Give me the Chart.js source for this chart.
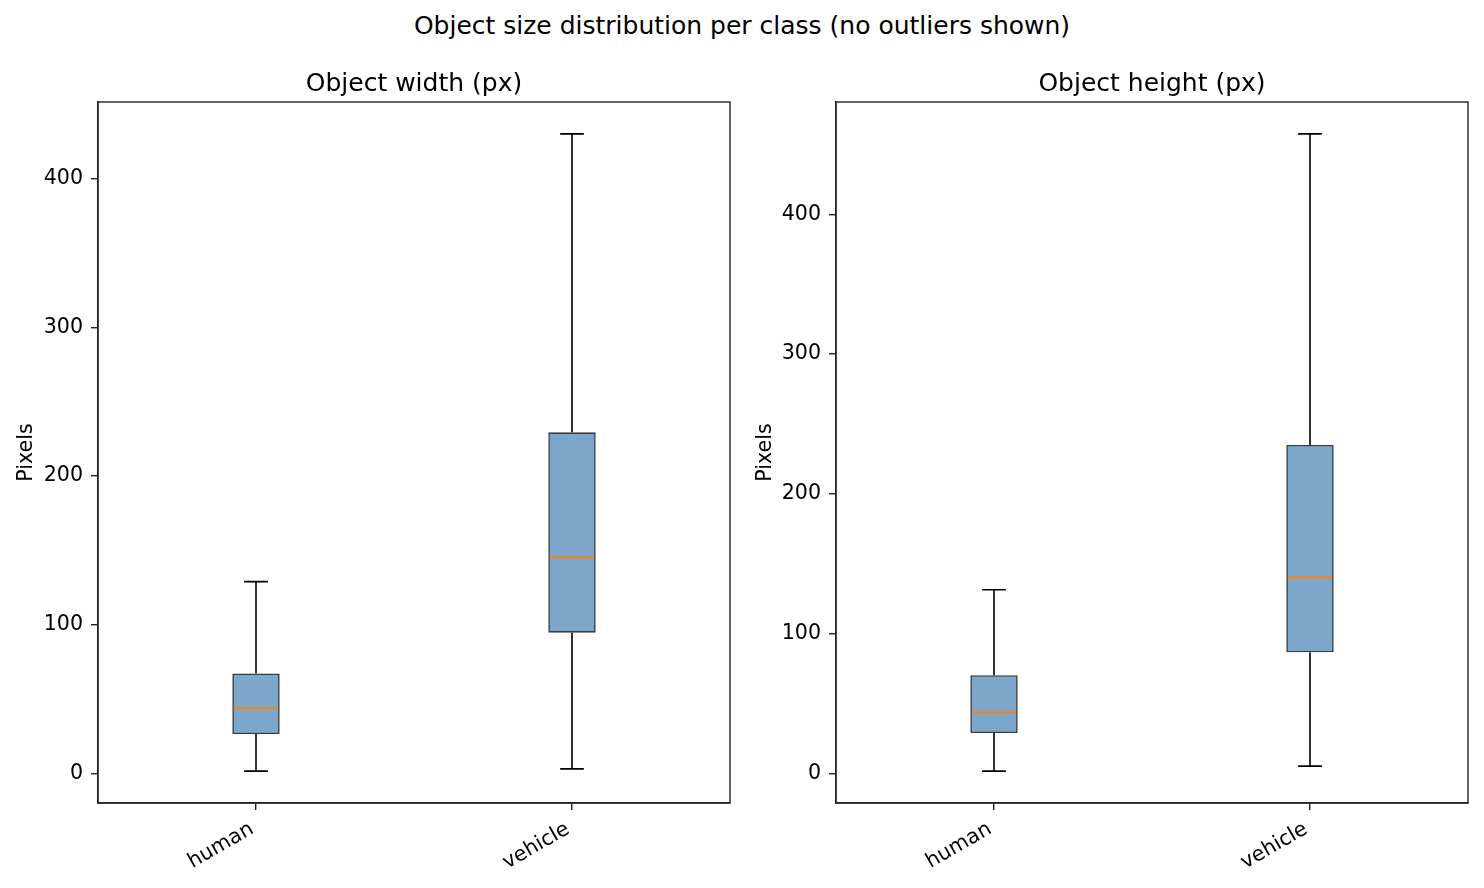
<!DOCTYPE html>
<html>
<head>
<meta charset="utf-8">
<title>Object size distribution per class</title>
<script src="https://cdn.jsdelivr.net/npm/chart.js@4.4.1/dist/chart.umd.min.js"></script>
<style>
    html, body { margin: 0; padding: 0; background: #fff; }
    body { width: 1484px; height: 888px; position: relative; overflow: hidden; font-family: 'DejaVu Sans', sans-serif; }
    #suptitle { position: absolute; top: 11px; left: 0; width: 1484px; text-align: center; font-size: 25px; color: #000; white-space: nowrap; }
    .panel { position: absolute; top: 0; width: 742px; height: 888px; }
    #p1 { left: 0; }
    #p2 { left: 742px; }
</style>
</head>
<body>
<div id="suptitle">Object size distribution per class (no outliers shown)</div>
<div class="panel" id="p1"><canvas id="widthChart"></canvas></div>
<div class="panel" id="p2"><canvas id="heightChart"></canvas></div>
<script>
// Box plot stats (px)
const classes = ['human', 'vehicle'];

const widthLow = [1.5, 3.0];
const widthQ1 = [26.4, 94.6];
const widthMedian = [43.8, 145.4];
const widthQ3 = [67.1, 229.3];
const widthHigh = [128.9, 430.0];

const heightLow = [1.6, 5.2];
const heightQ1 = [28.8, 86.6];
const heightMedian = [43.8, 140.2];
const heightQ3 = [70.2, 235.0];
const heightHigh = [131.4, 457.6];

const yTickStep = 100;

Chart.defaults.font.family = "'DejaVu Sans', sans-serif";
Chart.defaults.color = '#000';

/**
 * Draws whiskers, caps, medians, the axes frame and the panel title
 */
const boxPlotExtras = {
    id: 'boxPlotExtras',
    afterDatasetsDraw(chart, args, opts) {
        const ctx = chart.ctx;
        const y = chart.scales.y;
        const meta = chart.getDatasetMeta(0);
        ctx.save();
        meta.data.forEach((bar, i) => {
            const cx = bar.x;
            const half = bar.width / 2;
            const capHalf = half / 2;
            const yLow = y.getPixelForValue(opts.low[i]);
            const yHigh = y.getPixelForValue(opts.high[i]);
            const yQ1 = y.getPixelForValue(opts.q1[i]);
            const yQ3 = y.getPixelForValue(opts.q3[i]);
            const yMed = y.getPixelForValue(opts.median[i]);

            ctx.strokeStyle = '#000';
            ctx.lineWidth = 1.6;
            ctx.beginPath();
            ctx.moveTo(cx, yQ1); ctx.lineTo(cx, yLow);
            ctx.moveTo(cx, yQ3); ctx.lineTo(cx, yHigh);
            ctx.moveTo(cx - capHalf, yLow); ctx.lineTo(cx + capHalf, yLow);
            ctx.moveTo(cx - capHalf, yHigh); ctx.lineTo(cx + capHalf, yHigh);
            ctx.stroke();

            ctx.strokeStyle = '#ff7f0e';
            ctx.lineWidth = 2;
            ctx.beginPath();
            ctx.moveTo(cx - half + 1.5, yMed); ctx.lineTo(cx + half - 1.5, yMed);
            ctx.stroke();
        });

        // frame
        const a = chart.chartArea;
        ctx.strokeStyle = '#222';
        ctx.lineWidth = 1.4;
        ctx.strokeRect(a.left, a.top, a.right - a.left, a.bottom - a.top);

        // panel title
        ctx.fillStyle = '#000';
        ctx.font = "25px 'DejaVu Sans', sans-serif";
        ctx.textAlign = 'center';
        ctx.textBaseline = 'alphabetic';
        ctx.fillText(opts.title, (a.left + a.right) / 2, a.top - 11);
        ctx.restore();
    }
};

function axisLimits(low, high) {
    const lo = Math.min(...low);
    const hi = Math.max(...high);
    const pad = (hi - lo) * 0.05;
    return { min: lo - pad, max: hi + pad };
}

function makeBoxChart(canvasId, title, low, q1, median, q3, high, yAxisWidth, rightPad, titlePad) {
    const lim = axisLimits(low, high);
    return new Chart(document.getElementById(canvasId), {
        type: 'bar',
        data: {
            labels: classes,
            datasets: [{
                data: classes.map((c, i) => [q1[i], q3[i]]),
                backgroundColor: 'rgba(70, 130, 180, 0.7)',
                borderColor: '#363a41',
                borderWidth: 1.6,
                borderSkipped: false,
                barPercentage: 0.15,
                categoryPercentage: 1.0
            }]
        },
        options: {
            responsive: true,
            maintainAspectRatio: false,
            animation: false,
            layout: { padding: { top: 102, left: 0, right: rightPad, bottom: 0 } },
            plugins: {
                legend: { display: false },
                tooltip: { enabled: false },
                title: { display: false },
                boxPlotExtras: { title: title, low: low, q1: q1, median: median, q3: q3, high: high }
            },
            scales: {
                x: {
                    offset: true,
                    grid: { offset: false, drawOnChartArea: false, drawTicks: true, tickLength: 7, color: '#222', lineWidth: 1.4 },
                    border: { display: true, color: '#222', width: 1.4 },
                    ticks: { minRotation: 30, maxRotation: 30, padding: 7, labelOffset: -4, font: { size: 20.6 }, color: '#000' },
                    afterFit(scale) { scale.height = 85; }
                },
                y: {
                    min: lim.min,
                    max: lim.max,
                    grid: { drawOnChartArea: false, drawTicks: true, tickLength: 7, color: '#222', lineWidth: 1.4 },
                    border: { display: true, color: '#222', width: 1.4 },
                    ticks: { padding: 8, font: { size: 20.6 }, color: '#000' },
                    title: { display: true, text: 'Pixels', font: { size: 20.6 }, color: '#000', padding: { top: titlePad, bottom: 0 } },
                    afterBuildTicks(scale) {
                        const ticks = [];
                        for (let v = Math.ceil(scale.min / yTickStep) * yTickStep; v <= scale.max; v += yTickStep) {
                            ticks.push({ value: v });
                        }
                        scale.ticks = ticks;
                    },
                    afterFit(scale) { scale.width = yAxisWidth; }
                }
            }
        },
        plugins: [boxPlotExtras]
    });
}

makeBoxChart('widthChart', 'Object width (px)', widthLow, widthQ1, widthMedian, widthQ3, widthHigh, 98, 12, 14);
makeBoxChart('heightChart', 'Object height (px)', heightLow, heightQ1, heightMedian, heightQ3, heightHigh, 94, 16, 11);
</script>
</body>
</html>
